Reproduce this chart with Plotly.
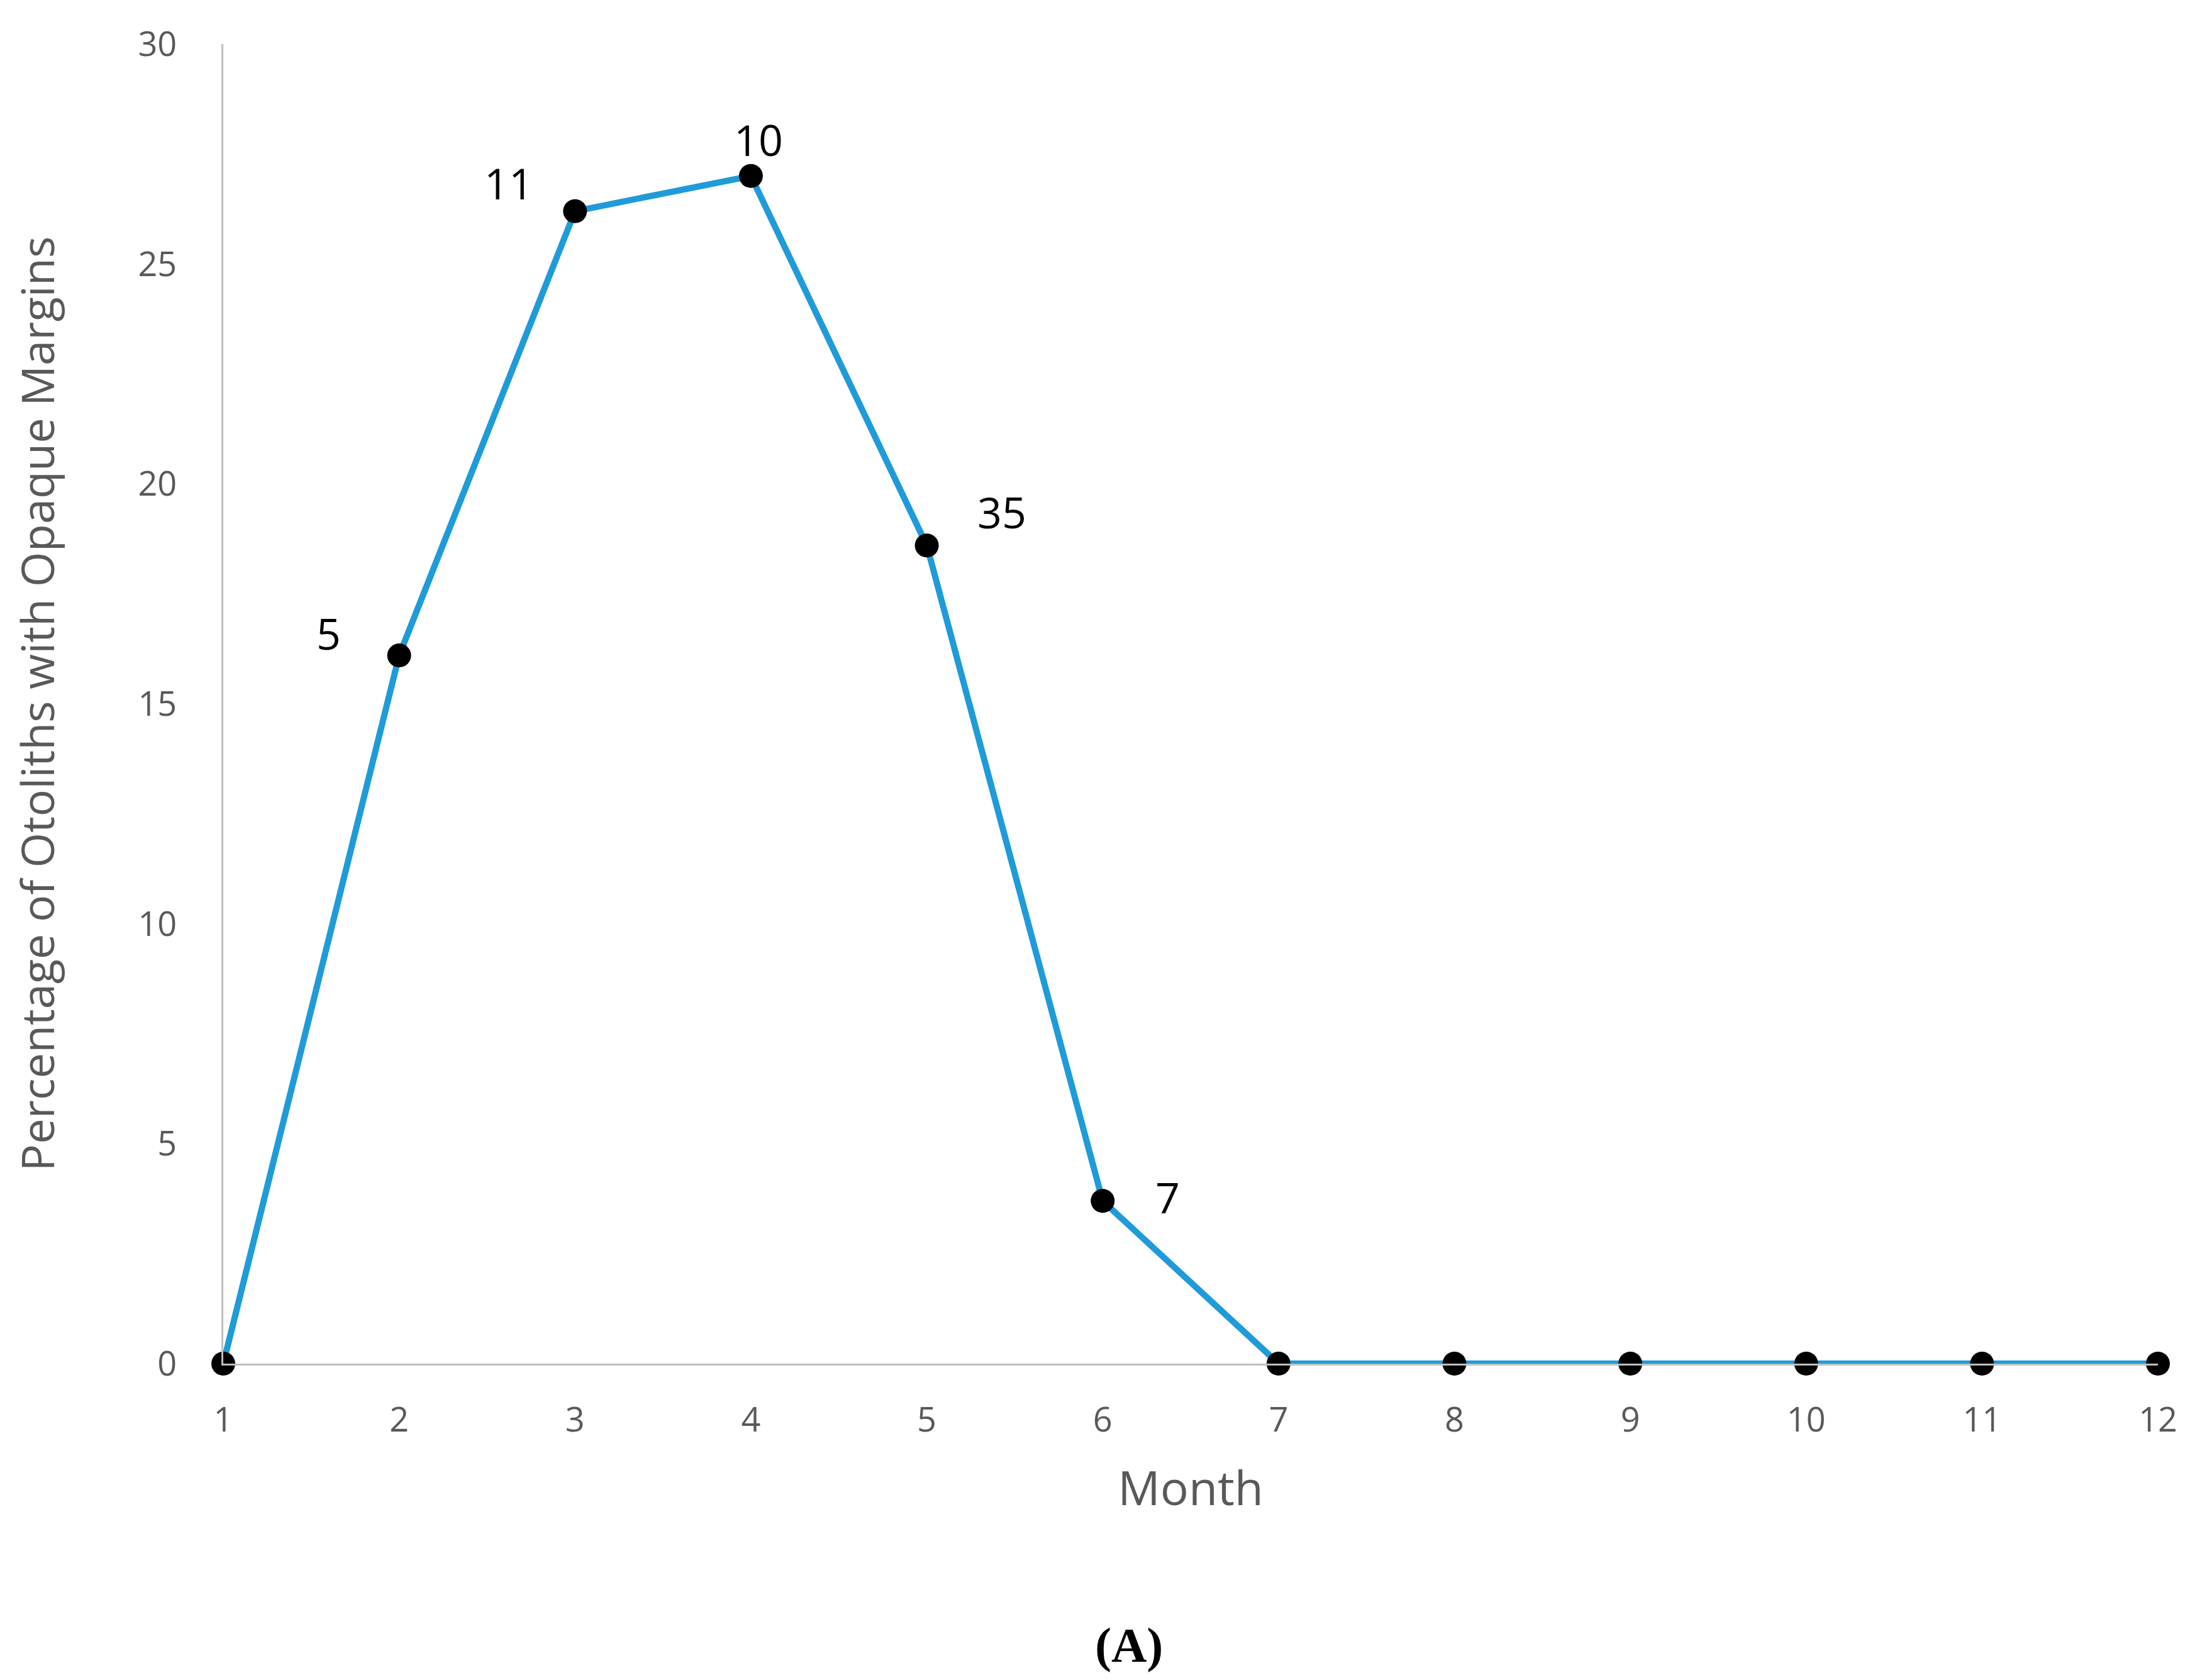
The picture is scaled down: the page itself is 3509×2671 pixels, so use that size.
import plotly.graph_objects as go

# monthly share of otoliths with an opaque margin (%)
months = [1, 2, 3, 4, 5, 6, 7, 8, 9, 10, 11, 12]
pct_opaque = [0, 16.1, 26.2, 27.0, 18.6, 3.7, 0, 0, 0, 0, 0, 0]

# sample sizes written next to the points
label_months = [2, 3, 4, 5, 6]
label_values = [16.1, 26.2, 27.0, 18.6, 3.7]
sample_n = ["5", "11", "10", "35", "7"]
label_dx = [-112, -105, 12, 119, 103]
label_dy = [36, 45, 58, 54, 7]

y_ticks = [0, 5, 10, 15, 20, 25, 30]

grey = "#595959"
fig = go.Figure()
fig.add_trace(go.Scatter(
    x=months, y=pct_opaque, mode="lines+markers",
    line=dict(color="#1f9bd9", width=10),
    marker=dict(color="black", size=38),
    cliponaxis=False, showlegend=False,
))

for m, v, t, dx, dy in zip(label_months, label_values, sample_n, label_dx, label_dy):
    fig.add_annotation(x=m, y=v, text=t, showarrow=False, xshift=dx, yshift=dy,
                       font=dict(family="Open Sans", size=68, color="black"))

fig.add_annotation(x=0.468, y=-0.235, xref="paper", yref="paper", text="<b>(A)</b>",
                   showarrow=False, font=dict(family="Liberation Serif", size=78, color="black"))

fig.update_layout(
    width=3509, height=2671,
    margin=dict(l=347, r=86, t=62, b=511),
    paper_bgcolor="white", plot_bgcolor="white",
    font=dict(family="Open Sans", color=grey),
)
fig.update_xaxes(
    range=[1, 12], tickvals=months, showgrid=False, zeroline=False,
    showline=True, linecolor="#bfbfbf", linewidth=3,
    tickfont=dict(size=54, color=grey), ticklabelstandoff=40,
    title=dict(text="Month", font=dict(size=75, color=grey), standoff=50),
)
fig.update_yaxes(
    range=[0, 30], tickvals=y_ticks, showgrid=False, zeroline=False,
    showline=True, linecolor="#bfbfbf", linewidth=3,
    tickfont=dict(size=54, color=grey), ticklabelstandoff=60,
    title=dict(text="Percentage of Otoliths with Opaque Margins", font=dict(size=72, color=grey), standoff=110),
)

fig.write_html("out.html")
